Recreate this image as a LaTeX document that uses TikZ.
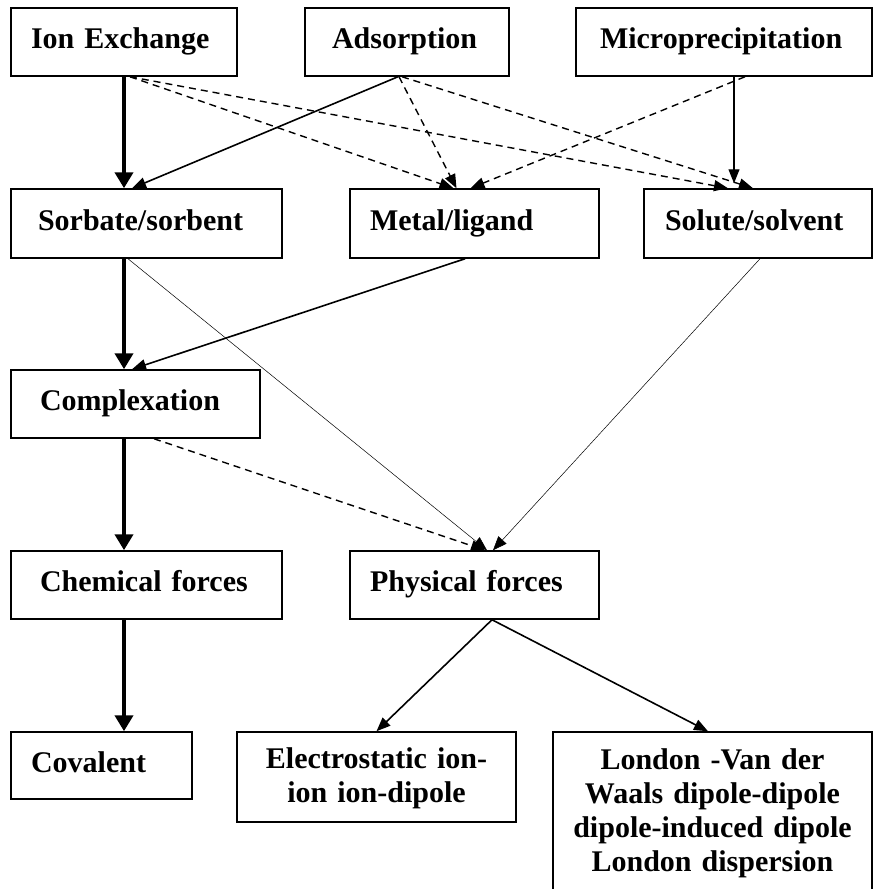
\documentclass[tikz,border=0pt]{standalone}
\usepackage{fontspec}
\setmainfont{Liberation Serif}
\usetikzlibrary{arrows.meta}
\begin{document}
\begin{tikzpicture}[
		x=1pt, y=-1pt,
		frame/.style={draw, line width=1.5pt, font=\bfseries\fontsize{30}{34}\selectfont, inner ysep=0pt, minimum height=68pt},
		box/.style={frame, align=left, text height=20pt, text depth=7pt},
		tallbox/.style={frame, align=center, inner xsep=5pt},
		heavy/.style={line width=4.5pt, -{Triangle[length=16pt,width=18pt]}},
		plain/.style={line width=1.6pt, -{Triangle[length=14pt,width=11pt]}},
		hair/.style={line width=0.5pt, -{Triangle[length=14pt,width=11pt]}},
		maybe/.style={line width=1.4pt, dash pattern=on 7pt off 5pt, -{Triangle[length=14pt,width=11pt]}}
	]
	\useasboundingbox (0,0) rectangle (874,889);
	\node[box, inner xsep=20pt, text width=186pt] (ion) at (124,42) {Ion Exchange};
	\node[box, inner xsep=27pt, text width=150pt] (ads) at (407,42) {Adsorption};
	\node[box, inner xsep=24pt, text width=248pt] (mic) at (724,42) {Microprecipitation};
	\node[box, inner xsep=27pt, text width=217pt, minimum height=69pt] (sorb) at (146.5,223.5) {Sorbate/sorbent};
	\node[box, inner xsep=20pt, text width=209pt, minimum height=69pt] (metal) at (474.5,223.5) {Metal/ligand};
	\node[box, inner xsep=21pt, text width=186pt, minimum height=69pt] (solu) at (758,223.5) {Solute/solvent};
	\node[box, inner xsep=29pt, text width=191pt] (cplx) at (135.5,404) {Complexation};
	\node[box, inner xsep=29pt, text width=213pt] (chem) at (146.5,585) {Chemical forces};
	\node[box, inner xsep=20pt, text width=209pt] (phys) at (474.5,585) {Physical forces};
	\node[box, inner xsep=20pt, text width=141pt, minimum height=67pt] (cov) at (101.5,765.5) {Covalent};
	\node[tallbox, text width=269pt, text height=24pt, minimum height=90pt] (elec) at (376.5,777) {Electrostatic ion-\\ion ion-dipole};
	\node[tallbox, text width=309pt, text height=25pt, minimum height=159pt] (lond) at (712.5,811.5) {London -Van der\\Waals dipole-dipole\\dipole-induced dipole\\London dispersion};
	\coordinate (spine) at (124,0);

	\draw[heavy] (ion.south -| spine) -- (sorb.north -| spine);
	\draw[heavy] (sorb.south -| spine) -- (cplx.north -| spine);
	\draw[heavy] (cplx.south -| spine) -- (chem.north -| spine);
	\draw[heavy] (chem.south -| spine) -- (cov.north -| spine);

	\draw[plain] ([xshift=-9pt]ads.south) -- ([xshift=-14.5pt]sorb.north);
	\draw[maybe] ([xshift=6pt]ion.south) -- ([xshift=-21pt]metal.north);
	\draw[maybe] ([xshift=6pt]ion.south) -- ([xshift=-30pt]solu.north);
	\draw[maybe] ([xshift=-8pt]ads.south) -- ([xshift=-18pt]metal.north);
	\draw[maybe] ([xshift=-5pt]ads.south) -- ([xshift=-5pt]solu.north);
	\draw[maybe] ([xshift=21pt]mic.south) -- ([xshift=-4pt]metal.north);
	\draw[line width=1.1pt, -{Triangle[length=14pt,width=11pt]}] ([xshift=10pt]mic.south) -- ([xshift=-24pt,yshift=5pt]solu.north);

	\draw[plain] ([xshift=-9.5pt]metal.south) -- ([xshift=-3.5pt]cplx.north);
	\draw[hair] ([xshift=-18.5pt]sorb.south) -- ([xshift=12.5pt]phys.north);
	\draw[hair] ([xshift=2pt]solu.south) -- ([xshift=18.5pt]phys.north);
	\draw[maybe] ([xshift=18.5pt]cplx.south) -- ([xshift=10.5pt]phys.north);

	\draw[plain] ([xshift=17.5pt]phys.south) -- (elec.north);
	\draw[plain] ([xshift=17.5pt]phys.south) -- ([xshift=-4.5pt]lond.north);
\end{tikzpicture}
\end{document}
